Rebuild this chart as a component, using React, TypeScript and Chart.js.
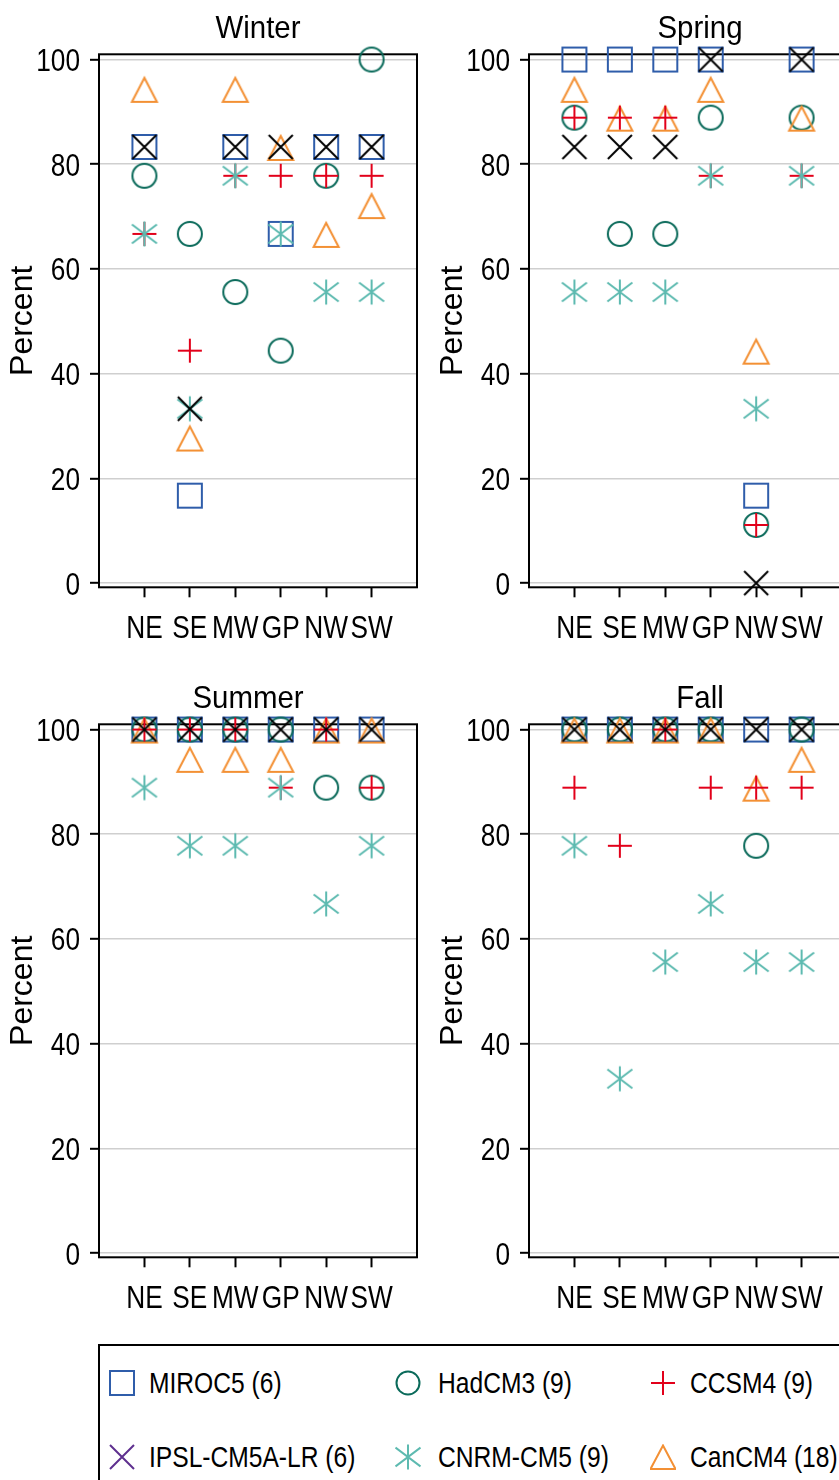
import React, { useEffect, useRef } from 'react';
import { Chart, registerables } from 'chart.js';

Chart.register(...registerables);

// ---------- data ----------
const regions = ['NE', 'SE', 'MW', 'GP', 'NW', 'SW'];
const yTickValues = [0, 20, 40, 60, 80, 100];
const modelNames = ['MIROC5 (6)', 'HadCM3 (9)', 'CCSM4 (9)', 'IPSL-CM5A-LR (6)', 'CNRM-CM5 (9)', 'CanCM4 (18)'];

// Winter
const winterMIROC5 = [83.3, 16.7, 83.3, 66.7, 83.3, 83.3];
const winterHadCM3 = [77.8, 66.7, 55.6, 44.4, 77.8, 100];
const winterCCSM4 = [66.7, 44.4, 77.8, 77.8, 77.8, 77.8];
const winterIPSL = [83.3, 33.3, 83.3, 83.3, 83.3, 83.3];
const winterCNRM = [66.7, 33.3, 77.8, 66.7, 55.6, 55.6];
const winterCanCM4 = [94.4, 27.8, 94.4, 83.3, 66.7, 72.2];

// Spring
const springMIROC5 = [100, 100, 100, 100, 16.7, 100];
const springHadCM3 = [88.9, 66.7, 66.7, 88.9, 11.1, 88.9];
const springCCSM4 = [88.9, 88.9, 88.9, 77.8, 11.1, 77.8];
const springIPSL = [83.3, 83.3, 83.3, 100, 0, 100];
const springCNRM = [55.6, 55.6, 55.6, 77.8, 33.3, 77.8];
const springCanCM4 = [94.4, 88.9, 88.9, 94.4, 44.4, 88.9];

// Summer
const summerMIROC5 = [100, 100, 100, 100, 100, 100];
const summerHadCM3 = [100, 100, 100, 100, 88.9, 88.9];
const summerCCSM4 = [100, 100, 100, 88.9, 100, 88.9];
const summerIPSL = [100, 100, 100, 100, 100, 100];
const summerCNRM = [88.9, 77.8, 77.8, 88.9, 66.7, 77.8];
const summerCanCM4 = [100, 94.4, 94.4, 94.4, 100, 100];

// Fall
const fallMIROC5 = [100, 100, 100, 100, 100, 100];
const fallHadCM3 = [100, 100, 100, 100, 77.8, 100];
const fallCCSM4 = [88.9, 77.8, 100, 88.9, 88.9, 88.9];
const fallIPSL = [100, 100, 100, 100, 100, 100];
const fallCNRM = [77.8, 33.3, 55.6, 66.7, 55.6, 55.6];
const fallCanCM4 = [100, 100, 100, 100, 88.9, 94.4];

// ---------- styles ----------
const FONT = "'Liberation Sans', Arial, sans-serif";
const NARROW = 0.82; // horizontal squeeze that imitates a condensed face
const C_BLUE = '#2f5daa';
const C_DKTEAL = '#0a6a5a';
const C_RED = '#e2001a';
const C_BLACK = '#000000';
const C_PURPLE = '#5e2f8f';
const C_TEAL = '#5dbab0';
const C_ORANGE = '#f39034';

type Kind = 'square' | 'circle' | 'plus' | 'x' | 'asterisk' | 'triangle';

function makeMarker(kind: Kind, color: string): HTMLCanvasElement {
  const s = 30;
  const c = document.createElement('canvas');
  c.width = s;
  c.height = s;
  const ctx = c.getContext('2d')!;
  ctx.strokeStyle = color;
  ctx.lineWidth = 2;
  const m = s / 2;
  ctx.beginPath();
  if (kind === 'square') {
    ctx.rect(m - 12, m - 12, 24, 24);
  } else if (kind === 'circle') {
    ctx.arc(m, m, 12, 0, Math.PI * 2);
  } else if (kind === 'plus') {
    ctx.moveTo(m - 12, m); ctx.lineTo(m + 12, m);
    ctx.moveTo(m, m - 12); ctx.lineTo(m, m + 12);
  } else if (kind === 'x') {
    ctx.moveTo(m - 12, m - 12); ctx.lineTo(m + 12, m + 12);
    ctx.moveTo(m + 12, m - 12); ctx.lineTo(m - 12, m + 12);
  } else if (kind === 'asterisk') {
    ctx.moveTo(m, m - 12.5); ctx.lineTo(m, m + 12.5);
    ctx.moveTo(m - 12.5, m - 9.5); ctx.lineTo(m + 12.5, m + 9.5);
    ctx.moveTo(m + 12.5, m - 9.5); ctx.lineTo(m - 12.5, m + 9.5);
  } else if (kind === 'triangle') {
    ctx.moveTo(m, m - 11);
    ctx.lineTo(m + 12.5, m + 13);
    ctx.lineTo(m - 12.5, m + 13);
    ctx.closePath();
  }
  ctx.stroke();
  return c;
}

type Season = { title: string; series: number[][]; dx: number };

const seasons: Season[] = [
  { title: 'Winter', series: [winterMIROC5, winterHadCM3, winterCCSM4, winterIPSL, winterCNRM, winterCanCM4], dx: 0 },
  { title: 'Spring', series: [springMIROC5, springHadCM3, springCCSM4, springIPSL, springCNRM, springCanCM4], dx: 12 },
  { title: 'Summer', series: [summerMIROC5, summerHadCM3, summerCCSM4, summerIPSL, summerCNRM, summerCanCM4], dx: -10 },
  { title: 'Fall', series: [fallMIROC5, fallHadCM3, fallCCSM4, fallIPSL, fallCNRM, fallCanCM4], dx: 12 },
];

const modelKinds: Kind[] = ['square', 'circle', 'plus', 'x', 'asterisk', 'triangle'];
const modelPlotColors = [C_BLUE, C_DKTEAL, C_RED, C_BLACK, C_TEAL, C_ORANGE];
const modelLegendColors = [C_BLUE, C_DKTEAL, C_RED, C_PURPLE, C_TEAL, C_ORANGE];
// drawing stack (bottom -> top): MIROC5, HadCM3, CanCM4, CCSM4, CNRM, IPSL
const modelOrder = [6, 5, 3, 1, 2, 4];

const CW = 430;
const CH = 660;
const PLOT_TOP = 54.3;
const PLOT_BOTTOM = 587.3;

const framePlugin = {
  id: 'frame',
  beforeDatasetsDraw(chart: any) {
    const { ctx, chartArea } = chart;
    const { left, right, top, bottom } = chartArea;
    ctx.save();
    ctx.strokeStyle = '#000';
    ctx.lineWidth = 2;
    ctx.strokeRect(left, top, right - left, bottom - top);
    ctx.restore();
  },
};

function squeezedText(ctx: CanvasRenderingContext2D, text: string, x: number, y: number, f: number) {
  ctx.save();
  ctx.translate(x, y);
  ctx.scale(f, 1);
  ctx.fillText(text, 0, 0);
  ctx.restore();
}

const titlePlugin = {
  id: 'panelTitle',
  afterDraw(chart: any, _args: any, opts: any) {
    const { ctx, chartArea } = chart;
    ctx.save();
    ctx.font = `32px ${FONT}`;
    ctx.fillStyle = '#000';
    ctx.textAlign = 'center';
    ctx.textBaseline = 'alphabetic';
    squeezedText(ctx, opts.text, (chartArea.left + chartArea.right) / 2 + (opts.dx || 0), 37.5, 0.92);
    ctx.restore();
  },
};

// tick labels drawn at the library's tick positions, in a condensed style
const tickLabelPlugin = {
  id: 'tickLabels',
  afterDraw(chart: any) {
    const { ctx, chartArea } = chart;
    const xs = chart.scales.x;
    const ys = chart.scales.y;
    ctx.save();
    ctx.font = `32px ${FONT}`;
    ctx.fillStyle = '#000';
    ctx.textBaseline = 'alphabetic';
    ctx.textAlign = 'right';
    ys.ticks.forEach((t: any) => {
      const py = ys.getPixelForValue(t.value);
      squeezedText(ctx, String(t.value), chartArea.left - 19, py + 11.5, NARROW);
    });
    ctx.textAlign = 'center';
    xs.ticks.forEach((t: any) => {
      const px = xs.getPixelForValue(t.value);
      squeezedText(ctx, regions[t.value - 1] ?? '', px, chartArea.bottom + 51, NARROW);
    });
    ctx.restore();
  },
};

function Panel({ season }: { season: Season }) {
  const ref = useRef<HTMLCanvasElement | null>(null);
  useEffect(() => {
    if (!ref.current) return;
    const datasets = season.series.map((vals, mi) => ({
      label: modelNames[mi],
      data: vals.map((v, i) => ({ x: i + 1, y: v })),
      pointStyle: makeMarker(modelKinds[mi], modelPlotColors[mi]),
      pointRadius: 12,
      pointHoverRadius: 12,
      showLine: false,
      clip: false as any,
      order: modelOrder[mi],
    }));
    const chart = new Chart(ref.current, {
      type: 'scatter',
      data: { datasets },
      plugins: [framePlugin, titlePlugin, tickLabelPlugin],
      options: {
        responsive: false,
        animation: false,
        events: [],
        layout: { padding: { top: PLOT_TOP, right: CW - 419, left: 0, bottom: 0 } },
        plugins: {
          legend: { display: false },
          tooltip: { enabled: false },
          title: { display: false },
          panelTitle: { text: season.title, dx: season.dx },
        } as any,
        scales: {
          x: {
            type: 'linear',
            min: 0,
            max: 7,
            afterBuildTicks: (s: any) => {
              s.ticks = regions.map((_, i) => ({ value: i + 1 }));
            },
            afterFit: (s: any) => {
              s.height = CH - PLOT_BOTTOM;
            },
            ticks: { display: false },
            grid: { drawOnChartArea: false, drawTicks: true, tickLength: 10, tickColor: '#000', tickWidth: 2 },
            border: { display: false },
          },
          y: {
            type: 'linear',
            min: -0.8,
            max: 101,
            afterBuildTicks: (s: any) => {
              s.ticks = yTickValues.map((v) => ({ value: v }));
            },
            afterFit: (s: any) => {
              s.width = 99;
            },
            ticks: { display: false },
            grid: { color: '#cfcfcf', lineWidth: 1.6, tickLength: 9, tickColor: '#000', tickWidth: 2 },
            border: { display: false },
            title: {
              display: true,
              text: 'Percent',
              color: '#000',
              font: { family: FONT, size: 32 },
              padding: { top: 4, bottom: 0 },
            },
          },
        },
      } as any,
    });
    return () => chart.destroy();
  }, [season]);
  return <canvas ref={ref} width={CW} height={CH} style={{ display: 'block' }} />;
}

function LegendSymbol({ kind, color }: { kind: Kind; color: string }) {
  const sw = 2;
  let shape: React.ReactNode = null;
  if (kind === 'square') shape = <rect x={1} y={1} width={24} height={24} fill="none" stroke={color} strokeWidth={sw} />;
  if (kind === 'circle') shape = <circle cx={13} cy={13} r={11.5} fill="none" stroke={color} strokeWidth={sw} />;
  if (kind === 'plus') shape = <path d="M1 13 H25 M13 1 V25" fill="none" stroke={color} strokeWidth={sw} />;
  if (kind === 'x') shape = <path d="M1 1 L25 25 M25 1 L1 25" fill="none" stroke={color} strokeWidth={sw} />;
  if (kind === 'asterisk') shape = <path d="M13 0.5 V25.5 M0.5 3.5 L25.5 22.5 M25.5 3.5 L0.5 22.5" fill="none" stroke={color} strokeWidth={sw} />;
  if (kind === 'triangle') shape = <path d="M13 1.5 L25.5 25 L0.5 25 Z" fill="none" stroke={color} strokeWidth={sw} />;
  return (
    <svg width={26} height={26} style={{ display: 'block' }}>
      {shape}
    </svg>
  );
}

const legendCols = [
  { sx: 122, tx: 149 },
  { sx: 408, tx: 438 },
  { sx: 663, tx: 690 },
];
const legendRows = [1383, 1457];

export default function App() {
  const panelPos = [
    { left: 0, top: 0 },
    { left: 430, top: 0 },
    { left: 0, top: 670 },
    { left: 430, top: 670 },
  ];
  return (
    <div
      style={{
        position: 'absolute',
        left: 0,
        top: 0,
        width: 839,
        height: 1480,
        overflow: 'hidden',
        background: '#fff',
      }}
    >
      {seasons.map((s, i) => (
        <div key={s.title} style={{ position: 'absolute', left: panelPos[i].left, top: panelPos[i].top }}>
          <Panel season={s} />
        </div>
      ))}
      <div
        style={{
          position: 'absolute',
          left: 98,
          top: 1344,
          width: 800,
          height: 200,
          border: '2px solid #000',
          boxSizing: 'border-box',
        }}
      />
      {modelNames.map((name, mi) => {
        const row = mi < 3 ? 0 : 1;
        const col = mi % 3;
        const cy = legendRows[row];
        const { sx, tx } = legendCols[col];
        return (
          <React.Fragment key={name}>
            <div style={{ position: 'absolute', left: sx - 13, top: cy - 13 }}>
              <LegendSymbol kind={modelKinds[mi]} color={modelLegendColors[mi]} />
            </div>
            <div
              style={{
                position: 'absolute',
                left: tx,
                top: cy - 20,
                height: 40,
                lineHeight: '40px',
                fontFamily: FONT,
                fontSize: 30,
                color: '#000',
                whiteSpace: 'nowrap',
                transform: `scaleX(${NARROW})`,
                transformOrigin: 'left center',
              }}
            >
              {name}
            </div>
          </React.Fragment>
        );
      })}
    </div>
  );
}
